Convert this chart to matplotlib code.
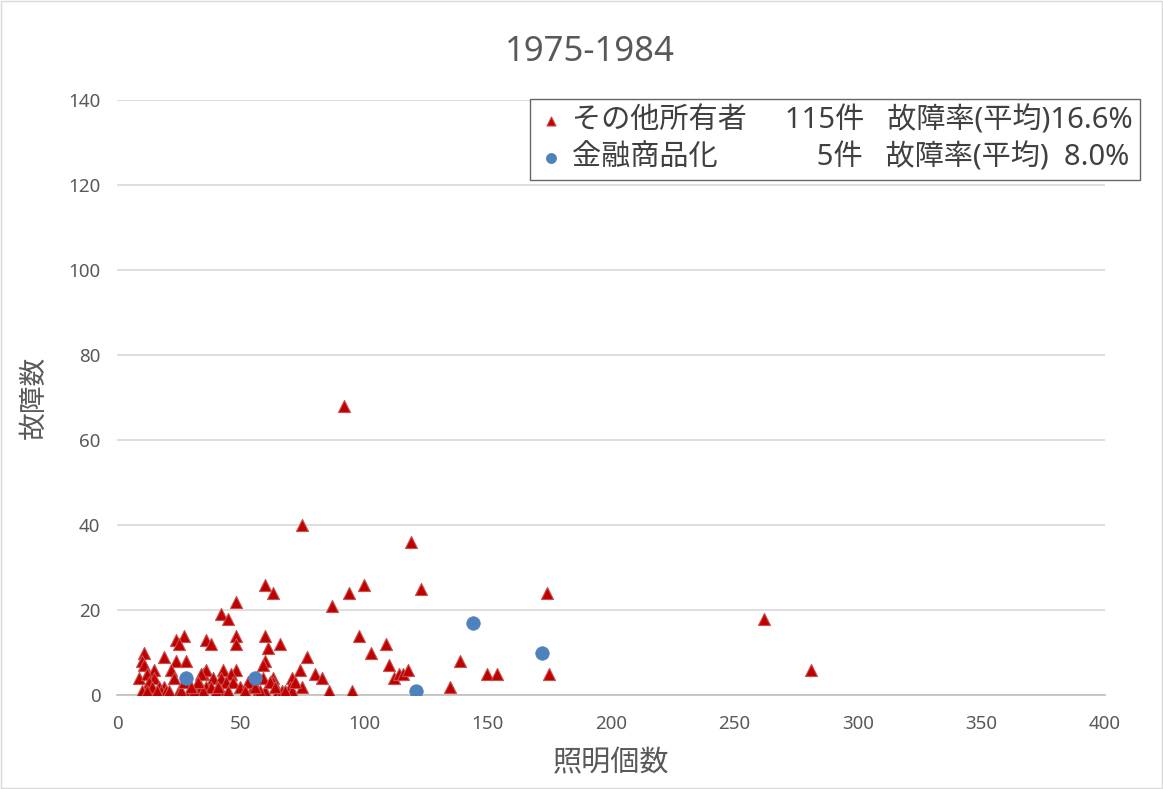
import numpy as np
import matplotlib
matplotlib.use("Agg")
import matplotlib.pyplot as plt
from matplotlib.patches import Rectangle

plt.rcParams['font.family'] = ['Noto Sans', 'Noto Sans CJK JP', 'DejaVu Sans']

# その他所有者 (lights, failures)
other_x = [92, 75, 119, 60, 100, 123, 63, 94, 174, 48, 87, 42, 45, 262,
           27, 24, 25, 36, 38, 48, 48, 60, 61, 66, 98, 103, 109,
           11, 10, 11, 19, 24, 28, 15, 22, 9, 12, 15, 23, 13, 17, 19, 10, 18,
           25, 29, 32, 34, 35, 36, 43, 48, 46, 34, 39, 42, 63, 36, 38, 44, 47,
           42, 35, 57, 60, 65, 63, 59, 60, 59, 77, 74, 80, 83, 71, 75, 70, 67,
           71, 86, 95, 110, 112, 114, 116, 118, 139, 135, 150, 154, 175, 281,
           55, 58, 62, 26, 27, 31, 33, 40, 50, 53, 20, 14, 21, 30, 41, 45, 52,
           56, 64, 68, 72, 12, 16]
other_y = [68, 40, 36, 26, 26, 25, 24, 24, 24, 22, 21, 19, 18, 18,
           14, 13, 12, 13, 12, 14, 12, 14, 11, 12, 14, 10, 12,
           10, 8, 7, 9, 8, 8, 6, 6, 4, 5, 4, 4, 3, 2, 2, 1, 1,
           1, 1, 2, 2, 5, 6, 6, 6, 5, 5, 4, 4, 4, 2, 2, 3, 3,
           1, 1, 1, 1, 1, 3, 4, 8, 7, 9, 6, 5, 4, 4, 2, 2, 1,
           1, 1, 1, 7, 4, 5, 5, 6, 8, 2, 5, 5, 5, 6,
           2, 1, 3, 1, 3, 1, 3, 1, 2, 3, 1, 2, 1, 2, 2, 1, 1,
           2, 2, 1, 3, 1, 1]

# 金融商品化
fin_x = [28, 56, 121, 144, 172]
fin_y = [4, 4, 1, 17, 10]

label_other = "その他所有者" + " " * 5 + "115件" + " " * 3 + "故障率(平均)16.6%"
label_fin = "金融商品化" + " " * 13 + "5件" + " " * 3 + "故障率(平均)  8.0%"

fig = plt.figure(figsize=(11.63, 7.89), dpi=100)
ax = fig.add_axes([0.1006, 0.119, 0.8494, 0.754])

ax.scatter(other_x, other_y, marker='^', s=75, facecolor='#C00000',
           edgecolor='#C8504D', linewidth=0.8, zorder=3, label=label_other)
ax.scatter(fin_x, fin_y, marker='o', s=95, facecolor='#4F81BD',
           edgecolor='#4F81BD', linewidth=0.5, zorder=3, label=label_fin)

ax.set_xlim(0, 400)
ax.set_ylim(0, 140)
ax.set_xticks(np.arange(0, 401, 50))
ax.set_yticks(np.arange(0, 141, 20))
ax.grid(axis='y', color='#D9D9D9', linewidth=1.2)
ax.set_axisbelow(True)
for side in ['top', 'right', 'left']:
    ax.spines[side].set_visible(False)
ax.spines['bottom'].set_color('#BFBFBF')
ax.spines['bottom'].set_linewidth(1.2)
ax.tick_params(length=0, labelsize=13.5, labelcolor='#595959')
ax.tick_params(axis='x', pad=14)
ax.tick_params(axis='y', pad=12)

ax.set_title('1975-1984', fontsize=25, color='#595959', pad=28)
ax.title.set_x(0.479)
ax.set_xlabel('照明個数', fontsize=21, color='#595959', labelpad=12)
ax.set_ylabel('故障数', fontsize=20, color='#595959', labelpad=14)

leg = fig.legend(loc='upper right', bbox_to_anchor=(0.980, 0.874),
                 borderaxespad=0, fontsize=21, frameon=True, fancybox=False,
                 handletextpad=0.2, handlelength=1.0, markerscale=0.75,
                 labelspacing=0.25, borderpad=0.25, labelcolor='#404040')
leg.get_frame().set_edgecolor('#404040')
leg.get_frame().set_linewidth(1.0)

fig.patches.append(Rectangle((0.001, 0.001), 0.998, 0.998, transform=fig.transFigure,
                             fill=False, edgecolor='#D9D9D9', linewidth=1))

fig.savefig('out.png', dpi=100)
